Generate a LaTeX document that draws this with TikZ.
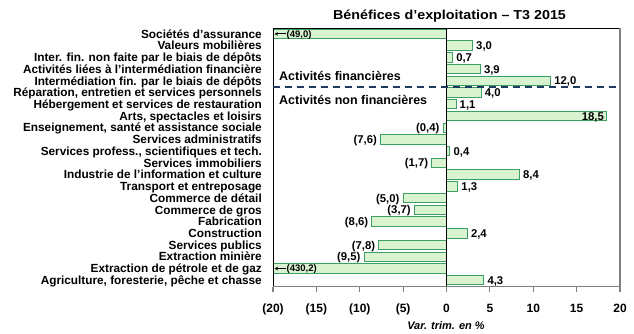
\documentclass[tikz,border=0pt]{standalone}
\usepackage{fontspec}
\setmainfont{Liberation Sans}
\usetikzlibrary{arrows.meta}
\definecolor{barfill}{HTML}{D9F2D0}
\definecolor{barline}{HTML}{3D9F63}
\definecolor{dashc}{HTML}{1F3A5F}
\definecolor{axisgray}{HTML}{808080}
\begin{document}
\begin{tikzpicture}[x=1pt,y=-1pt,
  catlab/.style={anchor=east,inner sep=0pt,text height=8.4pt,text depth=0pt,font=\bfseries\fontsize{11.8}{12}\selectfont},
  vallab/.style={inner sep=0pt,text height=8pt,text depth=0pt,font=\bfseries\fontsize{11.3}{12}\selectfont},
  smalllab/.style={inner sep=0pt,anchor=west,text height=6.8pt,text depth=0pt,font=\bfseries\fontsize{9.5}{10}\selectfont},
  ticklab/.style={inner sep=0pt,text height=8.6pt,text depth=0pt,font=\bfseries\fontsize{12}{13}\selectfont},
  grouplab/.style={anchor=west,inner sep=0pt,text height=9pt,text depth=0pt,font=\bfseries\fontsize{12.5}{13}\selectfont},
  barbox/.style={draw=barline,fill=barfill,line width=1pt},
  leftarrow/.style={-{Stealth[length=3.5pt,width=3.5pt]},line width=0.9pt},
  tickline/.style={draw=axisgray,line width=1.2pt}]
\useasboundingbox (0,0) rectangle (634,333);
% title
\node[inner sep=0pt,text height=9.3pt,text depth=0pt,font=\bfseries\fontsize{13}{14}\selectfont] (title) at (449.5,15) {\scalebox{1.1}[1]{Bénéfices d’exploitation – T3 2015}};
% category labels
\foreach \i/\lab in {0/Sociétés d’assurance,1/Valeurs mobilières,2/Inter. fin. non faite par le biais de dépôts,3/Activités liées à l’intermédiation financière,4/Intermédiation fin. par le biais de dépôts,5/{Réparation, entretien et services personnels},6/Hébergement et services de restauration,7/{Arts, spectacles et loisirs},8/{Enseignement, santé et assistance sociale},9/Services administratifs,10/{Services profess., scientifiques et tech.},11/Services immobiliers,12/Industrie de l’information et culture,13/Transport et entreposage,14/Commerce de détail,15/Commerce de gros,16/Fabrication,17/Construction,18/Services publics,19/Extraction minière,20/Extraction de pétrole et de gaz,21/{Agriculture, foresterie, pêche et chasse}}{
  \pgfmathsetmacro\yc{33.9+11.73*\i}
  \node[catlab] (c\i) at (262,\yc) {\lab};
}
% positive bars
\foreach \i/\v/\t in {1/3.0/{3,0},2/0.7/{0,7},3/3.9/{3,9},4/12.0/{12,0},5/4.0/{4,0},6/1.1/{1,1},10/0.4/{0,4},12/8.4/{8,4},13/1.3/{1,3},17/2.4/{2,4},21/4.3/{4,3}}{
  \pgfmathsetmacro\yc{33.9+11.73*\i}
  \pgfmathsetmacro\xe{446.5+8.675*\v}
  \draw[barbox] (446.5,\yc-4.7) rectangle (\xe,\yc+4.7);
  \node[vallab,anchor=west] (v\i) at (\xe+3.5,\yc) {\t};
}
% negative bars
\foreach \i/\v/\t in {8/-0.4/{(0,4)},9/-7.6/{(7,6)},11/-1.7/{(1,7)},14/-5.0/{(5,0)},15/-3.7/{(3,7)},16/-8.6/{(8,6)},18/-7.8/{(7,8)},19/-9.5/{(9,5)}}{
  \pgfmathsetmacro\yc{33.9+11.73*\i}
  \pgfmathsetmacro\xe{446.5+8.675*\v}
  \draw[barbox] (446.5,\yc-4.7) rectangle (\xe,\yc+4.7);
  \node[vallab,anchor=east] (v\i) at (\xe-3.5,\yc) {\t};
}
% bar with label inside
\pgfmathsetmacro\yc{33.9+11.73*7}
\pgfmathsetmacro\xe{446.5+8.675*18.5}
\draw[barbox] (446.5,\yc-4.7) rectangle (\xe,\yc+4.7);
\node[vallab,anchor=east] (v7) at (\xe-3,\yc) {18,5};
% truncated bars
\foreach \i/\t in {0/{(49,0)},20/{(430,2)}}{
  \pgfmathsetmacro\yc{33.9+11.73*\i}
  \draw[barbox] (446.5,\yc-4.7) rectangle (273,\yc+4.7);
  \node[smalllab] (v\i) at (286.5,\yc) {\t};
  \coordinate (a\i) at (274.5,\yc);
  \draw[leftarrow] (v\i.west) ++(-1,0) -- (a\i);
}
% frame and axes
\draw[black,line width=0.8pt] (273,286) -- (273,28) -- (620,28);
\draw[axisgray,line width=1.6pt] (620,28) -- (620,286.5) -- (272.6,286.5);
\draw[black,line width=0.8pt] (446.5,28) -- (446.5,286);
% dashed separator
\draw[dashc,line width=1.6pt,dash pattern=on 7pt off 5pt] (273,86.7) -- (620,86.7);
\node[grouplab] (gfin) at (279,76) {Activités financières};
\node[grouplab] (gnonfin) at (279,100) {Activités non financières};
% ticks
\foreach \k/\t in {-20/(20),-15/(15),-10/(10),-5/(5),0/0,5/5,10/10,15/15,20/20}{
  \pgfmathsetmacro\xt{446.5+8.675*\k}
  \draw[tickline] (\xt,286.5) -- (\xt,291.5);
  \node[ticklab] (t\k) at (\xt,308) {\t};
}
\node[inner sep=0pt,font=\bfseries\itshape\fontsize{11}{12}\selectfont] (xtitle) at (446,325.5) {Var. trim. en \%};
\end{tikzpicture}
\end{document}
